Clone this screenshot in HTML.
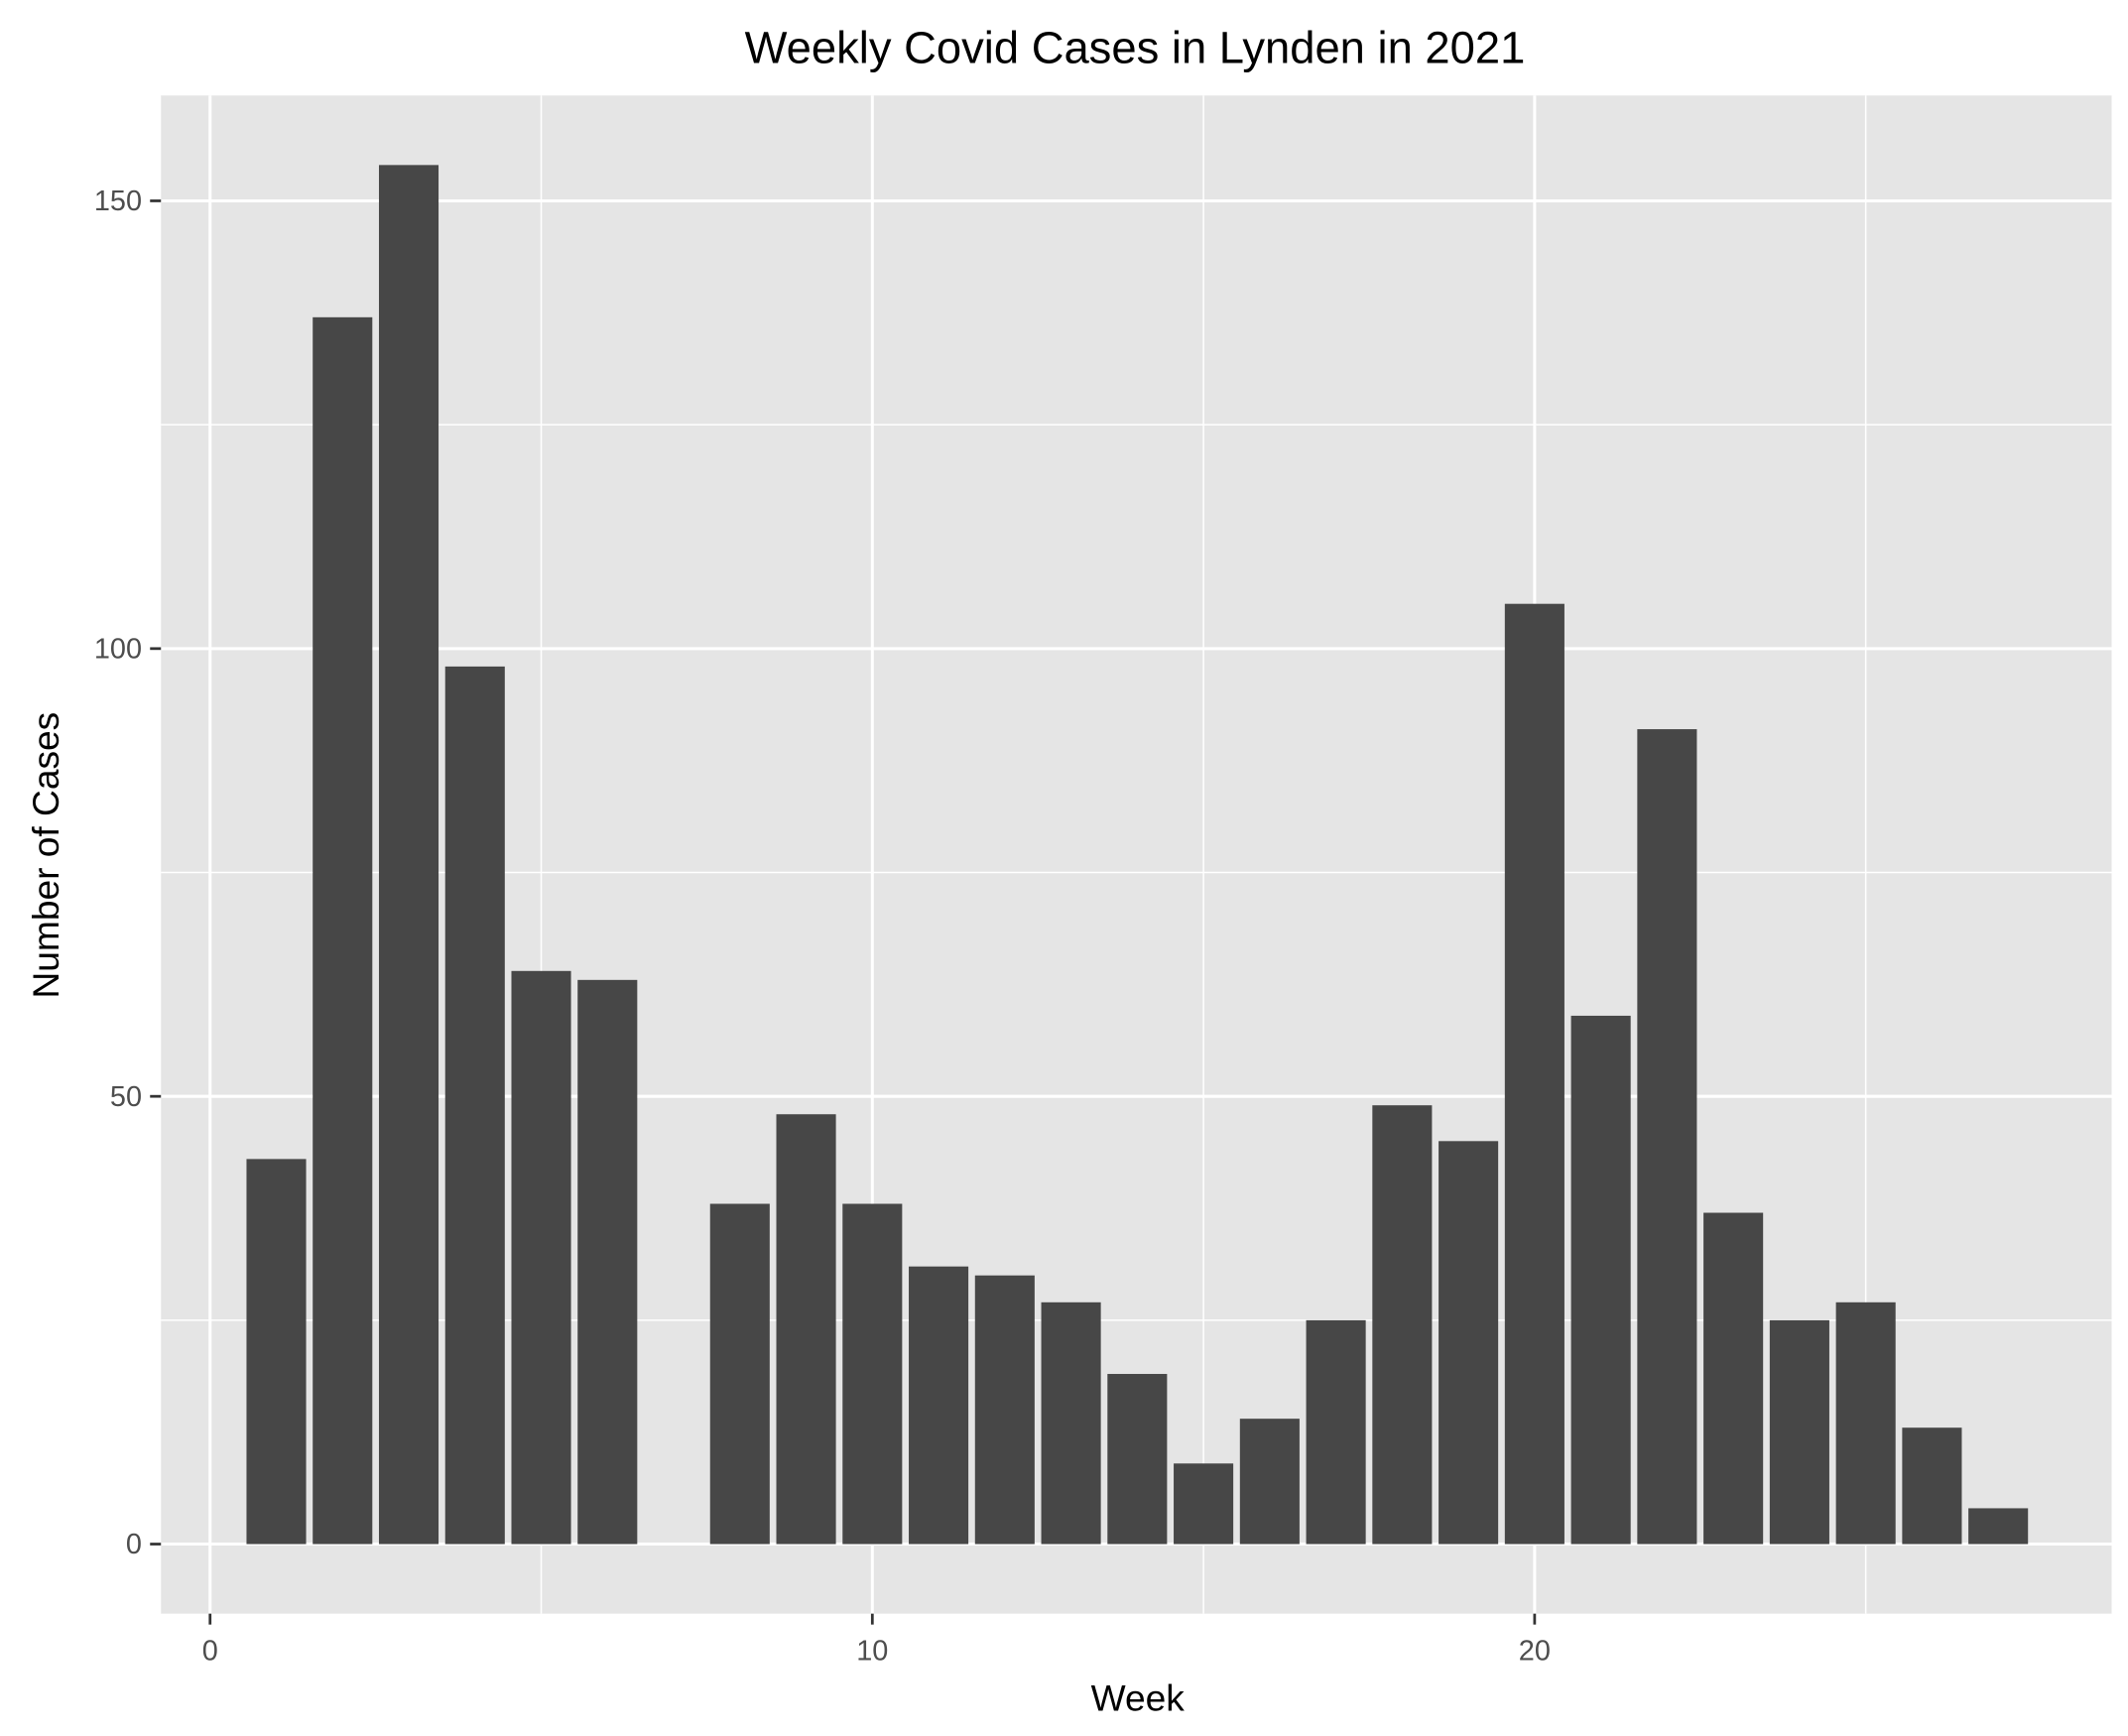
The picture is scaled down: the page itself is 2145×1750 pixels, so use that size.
<!DOCTYPE html>
<html><head><meta charset="utf-8"><style>html,body{margin:0;padding:0;background:#fff;}svg{display:block;}</style></head>
<body>
<svg id="chart" width="2145" height="1750" viewBox="0 0 1560 1272.7" preserveAspectRatio="none" xmlns="http://www.w3.org/2000/svg" font-family="Liberation Sans, Arial, sans-serif">
<rect width="1560" height="1273" fill="#fff"/>
<text x="832" y="46" text-anchor="middle" font-size="33" fill="#000">Weekly Covid Cases in Lynden in 2021</text>
<rect x="118" y="70" width="1430" height="1113" fill="#e5e5e5"/>
<g id="grid"></g>
<g id="bars"></g>
<g id="axes"></g>
<text x="834" y="1254" text-anchor="middle" font-size="27" fill="#000">Week</text>
<text x="0" y="0" transform="translate(43,627) rotate(-90)" text-anchor="middle" font-size="27" fill="#000">Number of Cases</text>
</svg>
<script>
const weeks=[1,2,3,4,5,6,8,9,10,11,12,13,14,15,16,17,18,19,20,21,22,23,24,25,26,27];
const cases=[43,137,154,98,64,63,38,48,38,31,30,27,19,9,14,25,49,45,105,59,91,37,25,27,13,4];
const xTicks=[0,10,20];
const xMinor=[5,15,25];
const yTicks=[0,50,100,150];
const yMinor=[25,75,125];
const NS='http://www.w3.org/2000/svg';
function xs(v){return 154+v*48.55;}
function ys(v){return 1132-v*6.565;}
function mk(parent,tag,attrs){const e=document.createElementNS(NS,tag);for(const k in attrs)e.setAttribute(k,attrs[k]);parent.appendChild(e);return e;}
const grid=document.getElementById('grid'),bars=document.getElementById('bars'),axes=document.getElementById('axes');
yMinor.forEach(v=>{const l=mk(grid,'line',{x1:118,x2:1548,y1:ys(v),y2:ys(v),stroke:'#fff','stroke-width':1.1});

});
xMinor.forEach(v=>{const l=mk(grid,'line',{x1:xs(v),x2:xs(v),y1:70,y2:1183,stroke:'#fff','stroke-width':1.1});

});
yTicks.forEach(v=>{const l=mk(grid,'line',{x1:118,x2:1548,y1:ys(v),y2:ys(v),stroke:'#fff','stroke-width':2.2});


const t=mk(axes,'line',{x1:110,x2:118,y1:ys(v),y2:ys(v),stroke:'#333','stroke-width':2});


const tx=mk(axes,'text',{x:104,y:ys(v)+7,'text-anchor':'end','font-size':21,fill:'#4d4d4d'});tx.textContent=v;

});
xTicks.forEach(v=>{const l=mk(grid,'line',{x1:xs(v),x2:xs(v),y1:70,y2:1183,stroke:'#fff','stroke-width':2.2});


const t=mk(axes,'line',{x1:xs(v),x2:xs(v),y1:1183,y2:1191,stroke:'#333','stroke-width':2});


const tx=mk(axes,'text',{x:xs(v),y:1217,'text-anchor':'middle','font-size':21,fill:'#4d4d4d'});tx.textContent=v;

});
weeks.forEach((w,i)=>{const b=mk(bars,'rect',{x:xs(w-0.45),y:ys(cases[i]),width:xs(w+0.45)-xs(w-0.45),height:ys(0)-ys(cases[i]),fill:'#474747'});

});
</script>
</body></html>
